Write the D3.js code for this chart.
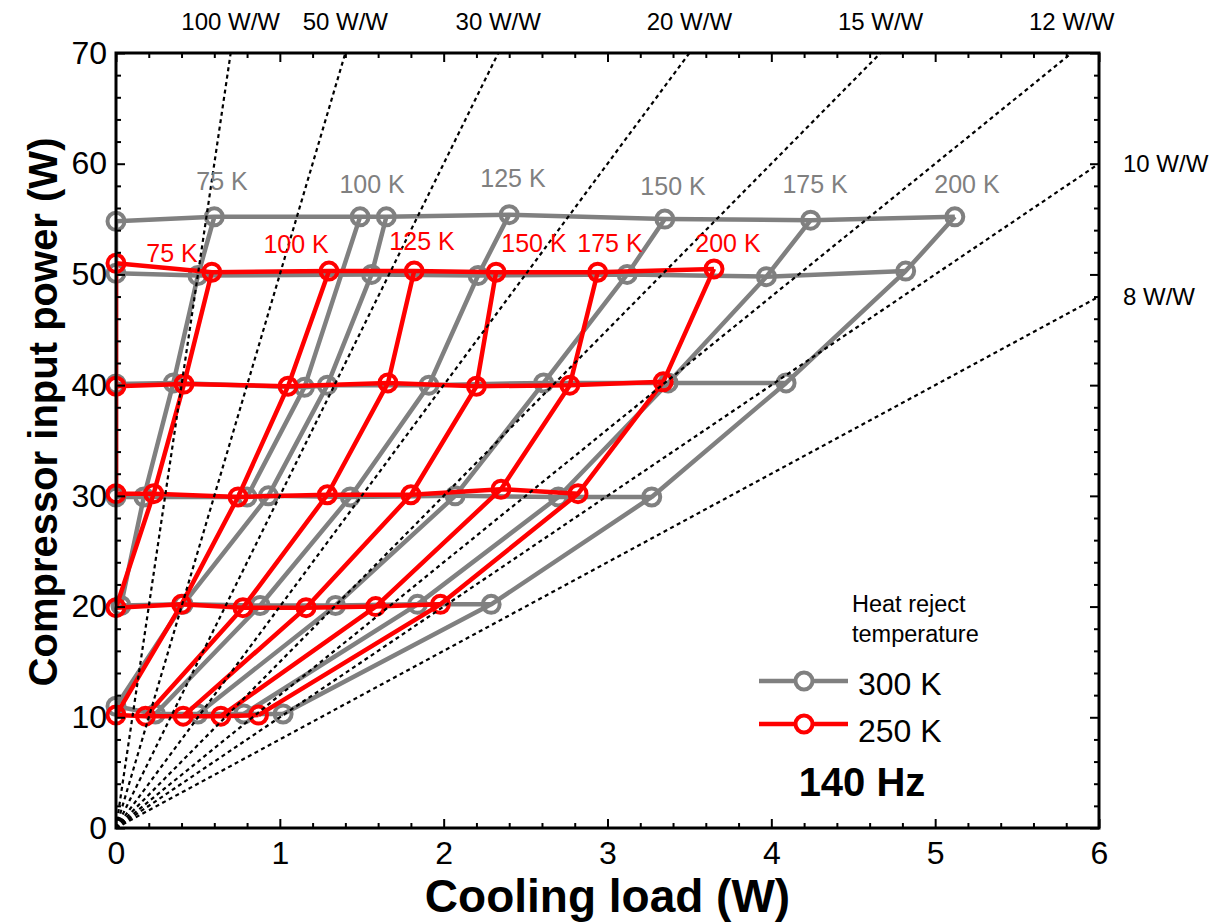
<!DOCTYPE html>
<html><head><meta charset="utf-8">
<script src="https://cdn.jsdelivr.net/npm/d3@7"></script>
<style>
body{margin:0;background:#fff}
svg{display:block}
text{font-family:"Liberation Sans",Arial,sans-serif;fill:#000}
</style>
</head><body>
<svg id="chart" width="1213" height="922"></svg>
<script>
// ---------- data ----------
const xTickValues = [0,1,2,3,4,5,6];
const yTickValues = [0,10,20,30,40,50,60,70];
const copValues = [100,50,30,20,15,12,10,8];
const copLabels = ["100 W/W","50 W/W","30 W/W","20 W/W","15 W/W","12 W/W","10 W/W","8 W/W"];

// 300 K heat reject (gray): rows = power settings, columns = cold-tip temperatures
const grayColumns = ["base","75 K","alt","100 K","125 K","150 K","175 K","200 K"];
const grayQ = [
  [0, 0.60, 1.49, 1.65, 2.40, 3.35, 4.24, 5.12],
  [0, 0.50, null, 1.56, 2.21, 3.12, 3.97, 4.82],
  [0, 0.35, 1.15, 1.29, 1.91, 2.61, 3.37, 4.09],
  [0, 0.17, 0.80, 0.93, 1.43, 2.07, 2.70, 3.27],
  [null, 0.03, null, 0.41, 0.88, 1.34, 1.84, 2.29],
  [null, null, null, 0, 0.24, 0.50, 0.78, 1.02]
];
const grayP = [
  [54.8, 55.2, 55.2, 55.2, 55.4, 55.0, 54.9, 55.2],
  [50.1, 49.9, null, 50.0, 49.9, 50.0, 49.8, 50.3],
  [40.1, 40.2, 39.8, 40.0, 40.0, 40.2, 40.2, 40.2],
  [29.9, 29.9, 29.9, 30.0, 29.9, 30.0, 29.9, 29.9],
  [null, 20.1, null, 20.2, 20.1, 20.1, 20.2, 20.2],
  [null, null, null, 11.0, 10.3, 10.3, 10.3, 10.3]
];
// 250 K heat reject (red)
const redColumns = ["base","75 K","100 K","125 K","150 K","175 K","200 K"];
const redQ = [
  [0, 0.585, 1.30, 1.82, 2.32, 2.94, 3.65],
  [0, 0.415, 1.05, 1.66, 2.20, 2.77, 3.34],
  [0, 0.23, 0.745, 1.29, 1.80, 2.35, 2.82],
  [null, 0, 0.40, 0.775, 1.16, 1.585, 1.98],
  [null, null, 0, 0.18, 0.41, 0.64, 0.87]
];
const redP = [
  [51.0, 50.2, 50.3, 50.3, 50.2, 50.2, 50.5],
  [39.9, 40.1, 39.9, 40.2, 39.9, 40.0, 40.3],
  [30.2, 30.2, 29.9, 30.1, 30.1, 30.6, 30.2],
  [null, 19.9, 20.2, 19.9, 19.9, 20.0, 20.2],
  [null, null, 10.2, 10.1, 10.1, 10.1, 10.2]
];
// temperature annotations (data coordinates of label centre / baseline)
const grayLabelText = ["75 K","100 K","125 K","150 K","175 K","200 K"];
const grayLabelQ = [0.647, 1.563, 2.423, 3.40, 4.267, 5.194];
const grayLabelP = [57.6, 57.35, 57.9, 57.2, 57.35, 57.35];
const redLabelText = ["75 K","100 K","125 K","150 K","175 K","200 K"];
const redLabelQ = [0.342, 1.099, 1.868, 2.551, 3.015, 3.735];
const redLabelP = [51.1, 51.9, 52.2, 52.0, 52.0, 52.0];
const seriesNames = ["300 K","250 K"];

// ---------- layout ----------
const svg = d3.select("#chart");
const L = 116, R = 1099, T = 53, B = 828;
const x = d3.scaleLinear().domain([0,6]).range([L,R]);
const y = d3.scaleLinear().domain([0,70]).range([B,T]);
const GRAY = "#808080", RED = "#ff0000";

svg.append("defs").append("clipPath").attr("id","plotclip")
  .append("rect").attr("x",L).attr("y",T).attr("width",R-L).attr("height",B-T);

const line = d3.line().x(d=>x(d[0])).y(d=>y(d[1]));

function drawSeries(Q, P, color){
  const g = svg.append("g").attr("clip-path","url(#plotclip)");
  const nR = Q.length, nC = Q[0].length;
  for(let r=0;r<nR;r++){
    const pts=[]; for(let c=0;c<nC;c++) if(Q[r][c]!==null) pts.push([Q[r][c],P[r][c]]);
    g.append("path").attr("d",line(pts)).attr("fill","none").attr("stroke",color)
      .attr("stroke-width",4.5).attr("stroke-linejoin","round");
  }
  for(let c=0;c<nC;c++){
    const pts=[]; for(let r=0;r<nR;r++) if(Q[r][c]!==null) pts.push([Q[r][c],P[r][c]]);
    if(pts.length>1) g.append("path").attr("d",line(pts)).attr("fill","none").attr("stroke",color)
      .attr("stroke-width",4.5).attr("stroke-linejoin","round");
  }
  const all=[]; for(let r=0;r<nR;r++) for(let c=0;c<nC;c++) if(Q[r][c]!==null) all.push([Q[r][c],P[r][c]]);
  svg.append("g").selectAll("circle").data(all).join("circle")
    .attr("cx",d=>x(d[0])).attr("cy",d=>y(d[1])).attr("r",8.5)
    .attr("fill","none").attr("stroke",color).attr("stroke-width",4);
}
drawSeries(grayQ, grayP, GRAY);
drawSeries(redQ, redP, RED);

// COP lines
const cg = svg.append("g").attr("clip-path","url(#plotclip)");
copValues.forEach(c=>{
  const end = (6*c<=70) ? [6,6*c] : [70/c,70];
  cg.append("path").attr("d",line([[0,0],end])).attr("fill","none")
    .attr("stroke","#000").attr("stroke-width",2.2).attr("stroke-dasharray","4,3.5");
});

// temperature labels
svg.append("g").selectAll("text").data(grayLabelText).join("text")
  .attr("x",(d,i)=>x(grayLabelQ[i])).attr("y",(d,i)=>y(grayLabelP[i]))
  .attr("text-anchor","middle").style("font-size","25px").style("fill",GRAY).text(d=>d);
svg.append("g").selectAll("text").data(redLabelText).join("text")
  .attr("x",(d,i)=>x(redLabelQ[i])).attr("y",(d,i)=>y(redLabelP[i]))
  .attr("text-anchor","middle").style("font-size","25px").style("fill",RED).text(d=>d);

// COP labels
copValues.forEach((c,i)=>{
  const t = svg.append("text").style("font-size","24px").text(copLabels[i]);
  if(6*c<=70){
    t.attr("x",R+24).attr("y",y(6*c)+8).attr("text-anchor","start");
  } else {
    t.attr("x",x(70/c)).attr("y",30).attr("text-anchor","middle");
  }
});

// axes with inward ticks
const minorX = d3.range(0,6.001,0.2).filter(v=>Math.abs(v-Math.round(v))>1e-6);
const minorY = d3.range(0,70.001,2).filter(v=>v%10!==0);
function addAxis(axisGen, tx, ty, values, size, labels, pad){
  const a = axisGen.tickValues(values).tickSize(-size).tickPadding(pad||9);
  a.tickFormat(labels ? d3.format("d") : "");
  const g = svg.append("g").attr("transform",`translate(${tx},${ty})`).call(a);
  g.select(".domain").remove();
  g.selectAll("line").attr("stroke","#000").attr("stroke-width",2);
  g.selectAll("text").style("font-size","32px").attr("font-family",null);
  return g;
}
addAxis(d3.axisBottom(x),0,B,xTickValues,9,true,13);
addAxis(d3.axisBottom(x),0,B,minorX,5,false);
addAxis(d3.axisTop(x),0,T,xTickValues,9,false);
addAxis(d3.axisTop(x),0,T,minorX,5,false);
addAxis(d3.axisLeft(y),L,0,yTickValues,9,true,9);
addAxis(d3.axisLeft(y),L,0,minorY,5,false);
addAxis(d3.axisRight(y),R,0,yTickValues,9,false);
addAxis(d3.axisRight(y),R,0,minorY,5,false);

svg.append("rect").attr("x",L).attr("y",T).attr("width",R-L).attr("height",B-T)
  .attr("fill","none").attr("stroke","#000").attr("stroke-width",3);

// axis titles
svg.append("text").attr("x",(L+R)/2).attr("y",912).attr("text-anchor","middle")
  .style("font-size","46px").style("font-weight","bold").text("Cooling load (W)");
svg.append("text").attr("transform",`translate(57,412) rotate(-90)`).attr("text-anchor","middle")
  .style("font-size","40px").style("font-weight","bold").text("Compressor input power (W)");

// legend
svg.append("text").attr("x",852).attr("y",612).style("font-size","23.5px").text("Heat reject");
svg.append("text").attr("x",852).attr("y",642).style("font-size","23.5px").text("temperature");
[[GRAY,681,seriesNames[0],695],[RED,724,seriesNames[1],742]].forEach(([col,ly,name,ty])=>{
  svg.append("line").attr("x1",759).attr("x2",848).attr("y1",ly).attr("y2",ly)
    .attr("stroke",col).attr("stroke-width",4.5);
  svg.append("circle").attr("cx",804).attr("cy",ly).attr("r",8.5)
    .attr("fill","#fff").attr("stroke",col).attr("stroke-width",4);
  svg.append("text").attr("x",858).attr("y",ty).style("font-size","32px").text(name);
});
svg.append("text").attr("x",862).attr("y",796).attr("text-anchor","middle")
  .style("font-size","40px").style("font-weight","bold").text("140 Hz");
</script>
</body></html>
